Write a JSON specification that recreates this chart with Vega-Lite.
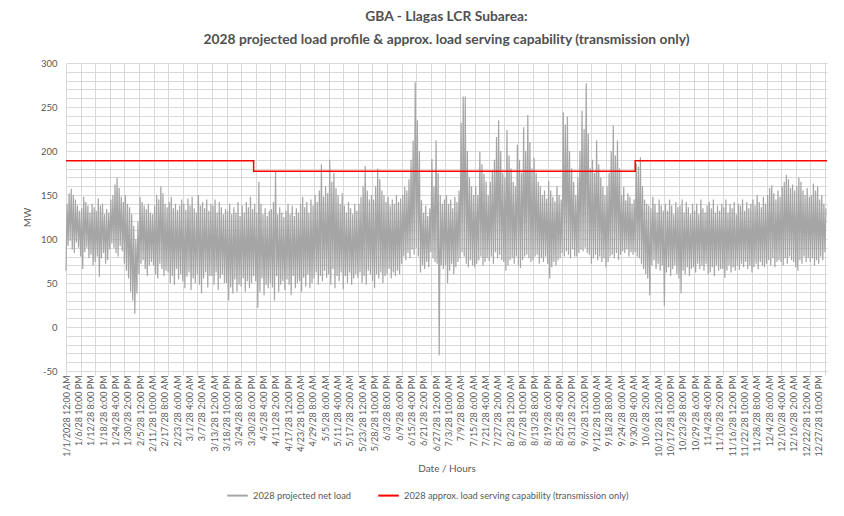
{
"$schema": "https://vega.github.io/schema/vega-lite/v6.json",
"width": 761, "height": 308,
"autosize": "none",
"padding": {"left": 66, "top": 63, "right": 17, "bottom": 145},
"background": "white",
"title": {"text": ["GBA - Llagas LCR Subarea:", "2028 projected load profile & approx. load serving capability (transmission only)"], "frame": "group", "anchor": "middle", "font": "Lato", "fontSize": 13.8, "fontWeight": "bold", "color": "#505050", "lineHeight": 23, "offset": 11},
"config": {"view": {"stroke": null}},
"datasets": {
"cap": [{"d":0,"v":189},{"d":90,"v":177},{"d":273,"v":189},{"d":365,"v":189}],
"load": [
{"d":0,"v":64},{"d":0.5,"v":140},{"d":1,"v":92},{"d":1.5,"v":152},{"d":2,"v":98},{"d":2.5,"v":157},{"d":3,"v":88},{"d":3.5,"v":150},{"d":4,"v":84},{"d":4.5,"v":145},{"d":5,"v":96},{"d":5.5,"v":138},{"d":6,"v":90},{"d":6.5,"v":132},
{"d":7,"v":80},{"d":7.5,"v":135},{"d":8,"v":66},{"d":8.5,"v":148},{"d":9,"v":85},{"d":9.5,"v":142},{"d":10,"v":90},{"d":10.5,"v":138},{"d":11,"v":78},{"d":11.5,"v":130},{"d":12,"v":82},{"d":12.5,"v":140},{"d":13,"v":70},{"d":13.5,"v":136},
{"d":14,"v":74},{"d":14.5,"v":132},{"d":15,"v":80},{"d":15.5,"v":146},{"d":16,"v":57},{"d":16.5,"v":138},{"d":17,"v":78},{"d":17.5,"v":140},{"d":18,"v":84},{"d":18.5,"v":128},{"d":19,"v":72},{"d":19.5,"v":134},{"d":20,"v":76},{"d":20.5,"v":130},
{"d":21,"v":88},{"d":21.5,"v":145},{"d":22,"v":95},{"d":22.5,"v":150},{"d":23,"v":90},{"d":23.5,"v":162},{"d":24,"v":84},{"d":24.5,"v":170},{"d":25,"v":80},{"d":25.5,"v":158},{"d":26,"v":92},{"d":26.5,"v":148},{"d":27,"v":86},{"d":27.5,"v":142},
{"d":28,"v":72},{"d":28.5,"v":150},{"d":29,"v":64},{"d":29.5,"v":140},{"d":30,"v":55},{"d":30.5,"v":136},{"d":31,"v":40},{"d":31.5,"v":128},{"d":32,"v":30},{"d":32.5,"v":115},{"d":33,"v":15},{"d":33.5,"v":100},{"d":34,"v":38},{"d":34.5,"v":120},
{"d":35,"v":60},{"d":35.5,"v":148},{"d":36,"v":72},{"d":36.5,"v":142},{"d":37,"v":76},{"d":37.5,"v":138},{"d":38,"v":66},{"d":38.5,"v":134},{"d":39,"v":58},{"d":39.5,"v":140},{"d":40,"v":70},{"d":40.5,"v":130},{"d":41,"v":74},{"d":41.5,"v":128},
{"d":42,"v":70},{"d":42.5,"v":138},{"d":43,"v":60},{"d":43.5,"v":150},{"d":44,"v":55},{"d":44.5,"v":145},{"d":45,"v":72},{"d":45.5,"v":160},{"d":46,"v":66},{"d":46.5,"v":152},{"d":47,"v":58},{"d":47.5,"v":140},{"d":48,"v":64},{"d":48.5,"v":136},
{"d":49,"v":62},{"d":49.5,"v":142},{"d":50,"v":50},{"d":50.5,"v":148},{"d":51,"v":58},{"d":51.5,"v":135},{"d":52,"v":48},{"d":52.5,"v":140},{"d":53,"v":66},{"d":53.5,"v":133},{"d":54,"v":54},{"d":54.5,"v":138},{"d":55,"v":60},{"d":55.5,"v":145},
{"d":56,"v":52},{"d":56.5,"v":140},{"d":57,"v":44},{"d":57.5,"v":133},{"d":58,"v":57},{"d":58.5,"v":146},{"d":59,"v":62},{"d":59.5,"v":138},{"d":60,"v":42},{"d":60.5,"v":148},{"d":61,"v":55},{"d":61.5,"v":135},{"d":62,"v":50},{"d":62.5,"v":130},
{"d":63,"v":60},{"d":63.5,"v":150},{"d":64,"v":48},{"d":64.5,"v":138},{"d":65,"v":38},{"d":65.5,"v":142},{"d":66,"v":55},{"d":66.5,"v":135},{"d":67,"v":62},{"d":67.5,"v":145},{"d":68,"v":45},{"d":68.5,"v":132},{"d":69,"v":58},{"d":69.5,"v":140},
{"d":70,"v":58},{"d":70.5,"v":138},{"d":71,"v":48},{"d":71.5,"v":145},{"d":72,"v":62},{"d":72.5,"v":130},{"d":73,"v":42},{"d":73.5,"v":142},{"d":74,"v":55},{"d":74.5,"v":136},{"d":75,"v":60},{"d":75.5,"v":128},{"d":76,"v":50},{"d":76.5,"v":134},
{"d":77,"v":50},{"d":77.5,"v":132},{"d":78,"v":30},{"d":78.5,"v":140},{"d":79,"v":45},{"d":79.5,"v":128},{"d":80,"v":38},{"d":80.5,"v":136},{"d":81,"v":54},{"d":81.5,"v":130},{"d":82,"v":40},{"d":82.5,"v":142},{"d":83,"v":48},{"d":83.5,"v":126},
{"d":84,"v":46},{"d":84.5,"v":138},{"d":85,"v":55},{"d":85.5,"v":130},{"d":86,"v":40},{"d":86.5,"v":142},{"d":87,"v":52},{"d":87.5,"v":136},{"d":88,"v":44},{"d":88.5,"v":148},{"d":89,"v":50},{"d":89.5,"v":134},{"d":90,"v":58},{"d":90.5,"v":140},
{"d":91,"v":52},{"d":91.5,"v":130},{"d":92,"v":22},{"d":92.5,"v":165},{"d":93,"v":40},{"d":93.5,"v":140},{"d":94,"v":55},{"d":94.5,"v":128},{"d":95,"v":36},{"d":95.5,"v":135},{"d":96,"v":48},{"d":96.5,"v":126},{"d":97,"v":44},{"d":97.5,"v":132},
{"d":98,"v":50},{"d":98.5,"v":134},{"d":99,"v":45},{"d":99.5,"v":142},{"d":100,"v":30},{"d":100.5,"v":176},{"d":101,"v":58},{"d":101.5,"v":128},{"d":102,"v":40},{"d":102.5,"v":136},{"d":103,"v":48},{"d":103.5,"v":130},{"d":104,"v":52},{"d":104.5,"v":125},
{"d":105,"v":42},{"d":105.5,"v":132},{"d":106,"v":54},{"d":106.5,"v":140},{"d":107,"v":48},{"d":107.5,"v":128},{"d":108,"v":36},{"d":108.5,"v":138},{"d":109,"v":58},{"d":109.5,"v":126},{"d":110,"v":44},{"d":110.5,"v":135},{"d":111,"v":50},{"d":111.5,"v":130},
{"d":112,"v":52},{"d":112.5,"v":140},{"d":113,"v":40},{"d":113.5,"v":148},{"d":114,"v":56},{"d":114.5,"v":136},{"d":115,"v":46},{"d":115.5,"v":142},{"d":116,"v":60},{"d":116.5,"v":130},{"d":117,"v":44},{"d":117.5,"v":145},{"d":118,"v":50},{"d":118.5,"v":138},
{"d":119,"v":55},{"d":119.5,"v":150},{"d":120,"v":62},{"d":120.5,"v":142},{"d":121,"v":48},{"d":121.5,"v":155},{"d":122,"v":58},{"d":122.5,"v":185},{"d":123,"v":52},{"d":123.5,"v":148},{"d":124,"v":64},{"d":124.5,"v":160},{"d":125,"v":56},{"d":125.5,"v":152},
{"d":126,"v":60},{"d":126.5,"v":190},{"d":127,"v":48},{"d":127.5,"v":165},{"d":128,"v":66},{"d":128.5,"v":175},{"d":129,"v":44},{"d":129.5,"v":158},{"d":130,"v":58},{"d":130.5,"v":150},{"d":131,"v":52},{"d":131.5,"v":140},{"d":132,"v":62},{"d":132.5,"v":152},
{"d":133,"v":43},{"d":133.5,"v":138},{"d":134,"v":58},{"d":134.5,"v":130},{"d":135,"v":50},{"d":135.5,"v":142},{"d":136,"v":62},{"d":136.5,"v":135},{"d":137,"v":48},{"d":137.5,"v":128},{"d":138,"v":55},{"d":138.5,"v":140},{"d":139,"v":60},{"d":139.5,"v":132},
{"d":140,"v":56},{"d":140.5,"v":140},{"d":141,"v":62},{"d":141.5,"v":148},{"d":142,"v":50},{"d":142.5,"v":160},{"d":143,"v":58},{"d":143.5,"v":183},{"d":144,"v":48},{"d":144.5,"v":155},{"d":145,"v":64},{"d":145.5,"v":145},{"d":146,"v":60},{"d":146.5,"v":150},
{"d":147,"v":52},{"d":147.5,"v":145},{"d":148,"v":44},{"d":148.5,"v":160},{"d":149,"v":60},{"d":149.5,"v":180},{"d":150,"v":55},{"d":150.5,"v":168},{"d":151,"v":62},{"d":151.5,"v":155},{"d":152,"v":50},{"d":152.5,"v":150},{"d":153,"v":58},{"d":153.5,"v":142},
{"d":154,"v":60},{"d":154.5,"v":148},{"d":155,"v":66},{"d":155.5,"v":138},{"d":156,"v":55},{"d":156.5,"v":145},{"d":157,"v":62},{"d":157.5,"v":140},{"d":158,"v":58},{"d":158.5,"v":150},{"d":159,"v":64},{"d":159.5,"v":142},{"d":160,"v":60},{"d":160.5,"v":146},
{"d":161,"v":72},{"d":161.5,"v":150},{"d":162,"v":80},{"d":162.5,"v":159},{"d":163,"v":76},{"d":163.5,"v":155},{"d":164,"v":84},{"d":164.5,"v":168},{"d":165,"v":78},{"d":165.5,"v":190},{"d":166,"v":88},{"d":166.5,"v":212},{"d":167,"v":82},{"d":167.5,"v":278},
{"d":168,"v":90},{"d":168.5,"v":235},{"d":169,"v":80},{"d":169.5,"v":200},{"d":170,"v":62},{"d":170.5,"v":144},{"d":171,"v":70},{"d":171.5,"v":130},{"d":172,"v":66},{"d":172.5,"v":138},{"d":173,"v":74},{"d":173.5,"v":126},{"d":174,"v":68},{"d":174.5,"v":135},
{"d":175,"v":85},{"d":175.5,"v":191},{"d":176,"v":78},{"d":176.5,"v":160},{"d":177,"v":74},{"d":177.5,"v":212},{"d":178,"v":72},{"d":178.5,"v":175},{"d":179,"v":-32},{"d":179.5,"v":150},{"d":180,"v":70},{"d":180.5,"v":140},{"d":181,"v":66},{"d":181.5,"v":145},
{"d":182,"v":70},{"d":182.5,"v":150},{"d":183,"v":50},{"d":183.5,"v":140},{"d":184,"v":64},{"d":184.5,"v":145},{"d":185,"v":72},{"d":185.5,"v":135},{"d":186,"v":60},{"d":186.5,"v":148},{"d":187,"v":68},{"d":187.5,"v":142},{"d":188,"v":74},{"d":188.5,"v":155},
{"d":189,"v":78},{"d":189.5,"v":232},{"d":190,"v":85},{"d":190.5,"v":262},{"d":191,"v":80},{"d":191.5,"v":262},{"d":192,"v":72},{"d":192.5,"v":200},{"d":193,"v":68},{"d":193.5,"v":170},{"d":194,"v":76},{"d":194.5,"v":160},{"d":195,"v":70},{"d":195.5,"v":150},
{"d":196,"v":68},{"d":196.5,"v":160},{"d":197,"v":72},{"d":197.5,"v":150},{"d":198,"v":76},{"d":198.5,"v":199},{"d":199,"v":80},{"d":199.5,"v":185},{"d":200,"v":70},{"d":200.5,"v":174},{"d":201,"v":74},{"d":201.5,"v":165},{"d":202,"v":78},{"d":202.5,"v":150},
{"d":203,"v":75},{"d":203.5,"v":165},{"d":204,"v":80},{"d":204.5,"v":178},{"d":205,"v":72},{"d":205.5,"v":190},{"d":206,"v":85},{"d":206.5,"v":216},{"d":207,"v":78},{"d":207.5,"v":235},{"d":208,"v":82},{"d":208.5,"v":200},{"d":209,"v":76},{"d":209.5,"v":175},
{"d":210,"v":74},{"d":210.5,"v":170},{"d":211,"v":64},{"d":211.5,"v":224},{"d":212,"v":70},{"d":212.5,"v":195},{"d":213,"v":76},{"d":213.5,"v":180},{"d":214,"v":78},{"d":214.5,"v":165},{"d":215,"v":72},{"d":215.5,"v":160},{"d":216,"v":80},{"d":216.5,"v":207},
{"d":217,"v":70},{"d":217.5,"v":190},{"d":218,"v":67},{"d":218.5,"v":175},{"d":219,"v":76},{"d":219.5,"v":227},{"d":220,"v":80},{"d":220.5,"v":200},{"d":221,"v":82},{"d":221.5,"v":241},{"d":222,"v":78},{"d":222.5,"v":210},{"d":223,"v":74},{"d":223.5,"v":180},
{"d":224,"v":76},{"d":224.5,"v":192},{"d":225,"v":80},{"d":225.5,"v":175},{"d":226,"v":82},{"d":226.5,"v":165},{"d":227,"v":72},{"d":227.5,"v":160},{"d":228,"v":78},{"d":228.5,"v":150},{"d":229,"v":74},{"d":229.5,"v":155},{"d":230,"v":80},{"d":230.5,"v":146},
{"d":231,"v":72},{"d":231.5,"v":166},{"d":232,"v":55},{"d":232.5,"v":155},{"d":233,"v":68},{"d":233.5,"v":148},{"d":234,"v":74},{"d":234.5,"v":143},{"d":235,"v":70},{"d":235.5,"v":160},{"d":236,"v":76},{"d":236.5,"v":150},{"d":237,"v":78},{"d":237.5,"v":145},
{"d":238,"v":84},{"d":238.5,"v":244},{"d":239,"v":80},{"d":239.5,"v":230},{"d":240,"v":86},{"d":240.5,"v":239},{"d":241,"v":82},{"d":241.5,"v":200},{"d":242,"v":78},{"d":242.5,"v":180},{"d":243,"v":88},{"d":243.5,"v":165},{"d":244,"v":80},{"d":244.5,"v":150},
{"d":245,"v":80},{"d":245.5,"v":170},{"d":246,"v":84},{"d":246.5,"v":200},{"d":247,"v":88},{"d":247.5,"v":246},{"d":248,"v":86},{"d":248.5,"v":225},{"d":249,"v":90},{"d":249.5,"v":277},{"d":250,"v":84},{"d":250.5,"v":220},{"d":251,"v":82},{"d":251.5,"v":180},
{"d":252,"v":72},{"d":252.5,"v":190},{"d":253,"v":78},{"d":253.5,"v":175},{"d":254,"v":82},{"d":254.5,"v":212},{"d":255,"v":76},{"d":255.5,"v":185},{"d":256,"v":80},{"d":256.5,"v":170},{"d":257,"v":74},{"d":257.5,"v":160},{"d":258,"v":78},{"d":258.5,"v":150},
{"d":259,"v":68},{"d":259.5,"v":160},{"d":260,"v":74},{"d":260.5,"v":175},{"d":261,"v":80},{"d":261.5,"v":200},{"d":262,"v":82},{"d":262.5,"v":229},{"d":263,"v":78},{"d":263.5,"v":195},{"d":264,"v":84},{"d":264.5,"v":212},{"d":265,"v":76},{"d":265.5,"v":180},
{"d":266,"v":82},{"d":266.5,"v":150},{"d":267,"v":86},{"d":267.5,"v":159},{"d":268,"v":84},{"d":268.5,"v":144},{"d":269,"v":88},{"d":269.5,"v":152},{"d":270,"v":80},{"d":270.5,"v":148},{"d":271,"v":85},{"d":271.5,"v":140},{"d":272,"v":82},{"d":272.5,"v":145},
{"d":273,"v":85},{"d":273.5,"v":186},{"d":274,"v":80},{"d":274.5,"v":182},{"d":275,"v":78},{"d":275.5,"v":193},{"d":276,"v":72},{"d":276.5,"v":160},{"d":277,"v":66},{"d":277.5,"v":145},{"d":278,"v":60},{"d":278.5,"v":140},{"d":279,"v":55},{"d":279.5,"v":138},
{"d":280,"v":36},{"d":280.5,"v":135},{"d":281,"v":70},{"d":281.5,"v":148},{"d":282,"v":76},{"d":282.5,"v":140},{"d":283,"v":66},{"d":283.5,"v":130},{"d":284,"v":72},{"d":284.5,"v":145},{"d":285,"v":64},{"d":285.5,"v":138},{"d":286,"v":70},{"d":286.5,"v":132},
{"d":287,"v":24},{"d":287.5,"v":140},{"d":288,"v":62},{"d":288.5,"v":132},{"d":289,"v":68},{"d":289.5,"v":145},{"d":290,"v":58},{"d":290.5,"v":138},{"d":291,"v":66},{"d":291.5,"v":128},{"d":292,"v":70},{"d":292.5,"v":142},{"d":293,"v":60},{"d":293.5,"v":136},
{"d":294,"v":55},{"d":294.5,"v":138},{"d":295,"v":38},{"d":295.5,"v":145},{"d":296,"v":64},{"d":296.5,"v":130},{"d":297,"v":60},{"d":297.5,"v":142},{"d":298,"v":68},{"d":298.5,"v":136},{"d":299,"v":58},{"d":299.5,"v":128},{"d":300,"v":66},{"d":300.5,"v":140},
{"d":301,"v":68},{"d":301.5,"v":132},{"d":302,"v":62},{"d":302.5,"v":140},{"d":303,"v":72},{"d":303.5,"v":128},{"d":304,"v":66},{"d":304.5,"v":145},{"d":305,"v":70},{"d":305.5,"v":135},{"d":306,"v":64},{"d":306.5,"v":130},{"d":307,"v":72},{"d":307.5,"v":138},
{"d":308,"v":60},{"d":308.5,"v":142},{"d":309,"v":62},{"d":309.5,"v":135},{"d":310,"v":68},{"d":310.5,"v":145},{"d":311,"v":58},{"d":311.5,"v":130},{"d":312,"v":70},{"d":312.5,"v":138},{"d":313,"v":64},{"d":313.5,"v":132},{"d":314,"v":66},{"d":314.5,"v":140},
{"d":315,"v":66},{"d":315.5,"v":136},{"d":316,"v":56},{"d":316.5,"v":145},{"d":317,"v":64},{"d":317.5,"v":130},{"d":318,"v":70},{"d":318.5,"v":140},{"d":319,"v":62},{"d":319.5,"v":135},{"d":320,"v":68},{"d":320.5,"v":142},{"d":321,"v":64},{"d":321.5,"v":128},
{"d":322,"v":70},{"d":322.5,"v":140},{"d":323,"v":65},{"d":323.5,"v":138},{"d":324,"v":72},{"d":324.5,"v":145},{"d":325,"v":68},{"d":325.5,"v":132},{"d":326,"v":74},{"d":326.5,"v":142},{"d":327,"v":66},{"d":327.5,"v":135},{"d":328,"v":70},{"d":328.5,"v":140},
{"d":329,"v":62},{"d":329.5,"v":145},{"d":330,"v":68},{"d":330.5,"v":138},{"d":331,"v":72},{"d":331.5,"v":150},{"d":332,"v":66},{"d":332.5,"v":142},{"d":333,"v":74},{"d":333.5,"v":136},{"d":334,"v":70},{"d":334.5,"v":148},{"d":335,"v":68},{"d":335.5,"v":140},
{"d":336,"v":72},{"d":336.5,"v":150},{"d":337,"v":76},{"d":337.5,"v":158},{"d":338,"v":70},{"d":338.5,"v":161},{"d":339,"v":78},{"d":339.5,"v":152},{"d":340,"v":68},{"d":340.5,"v":145},{"d":341,"v":74},{"d":341.5,"v":155},{"d":342,"v":76},{"d":342.5,"v":148},
{"d":343,"v":74},{"d":343.5,"v":160},{"d":344,"v":70},{"d":344.5,"v":165},{"d":345,"v":78},{"d":345.5,"v":173},{"d":346,"v":72},{"d":346.5,"v":168},{"d":347,"v":80},{"d":347.5,"v":158},{"d":348,"v":76},{"d":348.5,"v":162},{"d":349,"v":74},{"d":349.5,"v":155},
{"d":350,"v":68},{"d":350.5,"v":160},{"d":351,"v":64},{"d":351.5,"v":170},{"d":352,"v":76},{"d":352.5,"v":165},{"d":353,"v":72},{"d":353.5,"v":155},{"d":354,"v":80},{"d":354.5,"v":150},{"d":355,"v":74},{"d":355.5,"v":158},{"d":356,"v":78},{"d":356.5,"v":148},
{"d":357,"v":74},{"d":357.5,"v":150},{"d":358,"v":78},{"d":358.5,"v":163},{"d":359,"v":70},{"d":359.5,"v":155},{"d":360,"v":76},{"d":360.5,"v":160},{"d":361,"v":72},{"d":361.5,"v":145},{"d":362,"v":80},{"d":362.5,"v":150},{"d":363,"v":76},{"d":363.5,"v":140},{"d":364,"v":85},{"d":364.5,"v":135}
]},
"layer": [
{"data": {"name": "load"},
 "mark": {"type": "line", "strokeWidth": 1.2},
 "encoding": {
  "x": {"field": "d", "type": "quantitative", "scale": {"domain": [0, 365], "nice": false, "zero": false},
   "axis": {"orient": "bottom", "title": "Date / Hours", "titleFont": "Lato", "titleFontSize": 10, "titleFontWeight": "normal", "titleColor": "#595959", "titlePadding": 7, "tickCount": 1000,
    "values": [0,5.9167,11.8333,17.75,23.6667,29.5833,35.5,41.4167,47.3333,53.25,59.1667,65.0833,71,76.9167,82.8333,88.75,94.6667,100.5833,106.5,112.4167,118.3333,124.25,130.1667,136.0833,142,147.9167,153.8333,159.75,165.6667,171.5833,177.5,183.4167,189.3333,195.25,201.1667,207.0833,213,218.9167,224.8333,230.75,236.6667,242.5833,248.5,254.4167,260.3333,266.25,272.1667,278.0833,284,289.9167,295.8333,301.75,307.6667,313.5833,319.5,325.4167,331.3333,337.25,343.1667,349.0833,355,360.9167],
    "labelExpr": "datum.value == 0 ? '1/1/2028 12:00 AM' : utcFormat(utc(2027,0,1) + round(datum.value*24)*3600000, '%-m/%-d/28 %-I:%M %p')",
    "labelAngle": 270, "labelAlign": "right", "labelBaseline": "middle", "labelFont": "Lato", "labelFontSize": 9, "labelColor": "#595959", "labelPadding": 4, "labelOverlap": false, "labelFlush": false, "labelBound": false,
    "grid": false, "ticks": false, "domain": false}},
  "y": {"field": "v", "type": "quantitative", "scale": {"domain": [-50, 300], "nice": false, "zero": false},
   "axis": {"title": "MW", "titleFont": "Lato", "titleFontSize": 10, "titleFontWeight": "normal", "titleColor": "#595959", "titlePadding": 8, "tickCount": 1000,
    "values": [-50,-40,-30,-20,-10,0,10,20,30,40,50,60,70,80,90,100,110,120,130,140,150,160,170,180,190,200,210,220,230,240,250,260,270,280,290,300],
    "labelExpr": "datum.value % 50 == 0 ? '' + datum.value : ''",
    "labelFont": "Lato", "labelFontSize": 9.5, "labelColor": "#595959", "labelPadding": 9, "labelOverlap": false, "labelFlush": false,
    "grid": true, "gridColor": "#D9D9D9", "gridWidth": 1, "ticks": false, "domain": false}},
  "color": {"datum": "2028 projected net load", "type": "nominal",
   "scale": {"domain": ["2028 projected net load", "2028 approx. load serving capability (transmission only)"], "range": ["#A5A5A5", "#FF0000"]},
   "legend": {"orient": "none", "legendX": 160, "legendY": 421, "direction": "horizontal", "title": null, "symbolType": "stroke", "symbolSize": 420, "symbolStrokeWidth": 2, "labelFont": "Lato", "labelFontSize": 9.3, "labelColor": "#595959", "columnPadding": 22, "labelLimit": 400}}
 }},
{"data": {"name": "cap"},
 "mark": {"type": "line", "strokeWidth": 1.5, "interpolate": "step-after"},
 "encoding": {
  "x": {"field": "d", "type": "quantitative",
   "axis": {"orient": "bottom", "title": null, "tickCount": 1000, "values": [0,7,14,21,28,35,42,49,56,63,70,77,84,91,98,105,112,119,126,133,140,147,154,161,168,175,182,189,196,203,210,217,224,231,238,245,252,259,266,273,280,287,294,301,308,315,322,329,336,343,350,357,364],
    "labels": false, "grid": true, "gridColor": "#D9D9D9", "gridWidth": 1, "ticks": true, "tickSize": 4, "tickColor": "#D9D9D9", "domain": true, "domainColor": "#D9D9D9"}},
  "y": {"field": "v", "type": "quantitative"},
  "color": {"datum": "2028 approx. load serving capability (transmission only)", "type": "nominal"}
 }}
],
"resolve": {"axis": {"x": "independent"}}
}
